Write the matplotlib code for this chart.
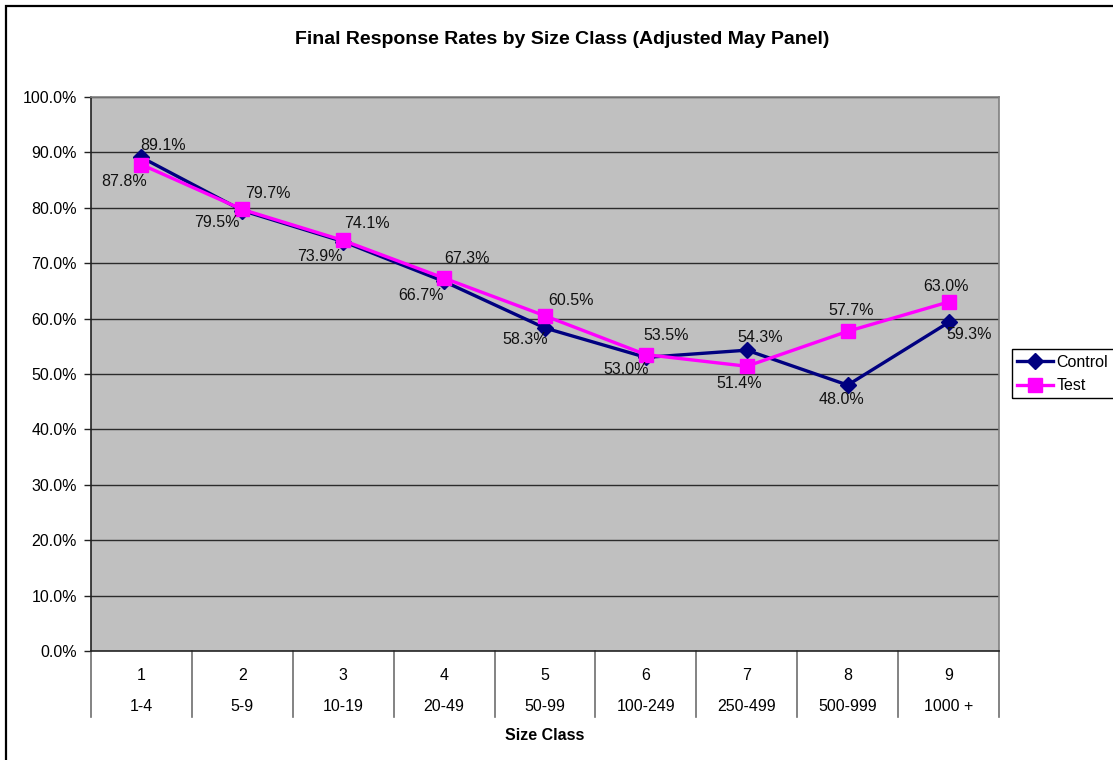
import matplotlib
matplotlib.use("Agg")
import matplotlib.pyplot as plt
from matplotlib.patches import Rectangle
from matplotlib.lines import Line2D

# ---- data ----
size_codes = ["1", "2", "3", "4", "5", "6", "7", "8", "9"]
size_ranges = ["1-4", "5-9", "10-19", "20-49", "50-99", "100-249", "250-499", "500-999", "1000 +"]
control = [89.1, 79.5, 73.9, 66.7, 58.3, 53.0, 54.3, 48.0, 59.3]
test = [87.8, 79.7, 74.1, 67.3, 60.5, 53.5, 51.4, 57.7, 63.0]
y_ticks = [0, 10, 20, 30, 40, 50, 60, 70, 80, 90, 100]

# label offsets (pixels) - styling
control_off = [(22, 12), (-25, -12), (-23, -15), (-23, -14), (-20, -11),
               (-20, -12), (13, 13), (-6, -14), (21, -12)]
test_off = [(-17, -17), (26, 16), (24, 17), (23, 20), (26, 15),
            (20, 19), (-8, -17), (3, 21), (-3, 15)]

FONT = "Liberation Sans"
plt.rcParams["font.family"] = [FONT, "DejaVu Sans"]

W, H = 1113, 760
fig = plt.figure(figsize=(W / 100, H / 100), dpi=100)
fig.patch.set_facecolor("white")

L, R, T, B = 91, 999, 97, 651
ax = fig.add_axes([L / W, 1 - B / H, (R - L) / W, (B - T) / H])
ax.set_facecolor("#C0C0C0")

n = len(control)
xs = [i + 0.5 for i in range(n)]
ax.set_xlim(0, n)
ax.set_ylim(0, 100)

for y in y_ticks[1:]:
    ax.axhline(y, color="#2b2b2b", lw=1.0, zorder=1)

ax.plot(xs, control, color="#000080", lw=2.4, marker="D", markersize=8,
        markerfacecolor="#000080", markeredgecolor="#000080", zorder=3, label="Control")
ax.plot(xs, test, color="#FF00FF", lw=2.4, marker="s", markersize=10,
        markerfacecolor="#FF00FF", markeredgecolor="#FF00FF", zorder=4, label="Test")

fs = 11.5
for x, v, (dx, dy) in zip(xs, control, control_off):
    ax.annotate(f"{v:.1f}%", (x, v), xytext=(dx, dy), textcoords="offset pixels",
                ha="center", va="center", fontsize=fs, color="#111111", zorder=5)
for x, v, (dx, dy) in zip(xs, test, test_off):
    ax.annotate(f"{v:.1f}%", (x, v), xytext=(dx, dy), textcoords="offset pixels",
                ha="center", va="center", fontsize=fs, color="#111111", zorder=5)

# y axis
ax.set_yticks(y_ticks)
ax.set_yticklabels([f"{v:.1f}%" for v in y_ticks], fontsize=fs)
ax.tick_params(axis="y", direction="out", length=5, width=1, color="#222222", pad=5)
ax.set_xticks([])

for s in ["left", "bottom"]:
    ax.spines[s].set_color("#222222")
    ax.spines[s].set_linewidth(1.2)
for s in ["right", "top"]:
    ax.spines[s].set_color("#808080")
    ax.spines[s].set_linewidth(1.2)

# x axis multi-level labels
ph = B - T
trans = ax.get_xaxis_transform()
sep_bottom = -(717 - 651) / ph
for k in range(n + 1):
    ax.plot([k, k], [0, sep_bottom], transform=trans, clip_on=False,
            color="#6e6e6e", lw=1.2)
for x, c, r in zip(xs, size_codes, size_ranges):
    ax.text(x, -(675 - 651) / ph, c, transform=trans, ha="center", va="center", fontsize=fs)
    ax.text(x, -(706.5 - 651) / ph, r, transform=trans, ha="center", va="center", fontsize=fs)
ax.text(n / 2, -(735 - 651) / ph, "Size Class", transform=trans, ha="center", va="center",
        fontsize=fs, fontweight="bold")

fig.text(562 / W, 1 - 40 / H, "Final Response Rates by Size Class (Adjusted May Panel)",
         ha="center", va="center", fontsize=14, fontweight="bold")

# legend (frame drawn separately; it runs past the right edge as in the reference)
handles = [Line2D([0], [0], color="#000080", lw=2.4, marker="D", markersize=8),
           Line2D([0], [0], color="#FF00FF", lw=2.4, marker="s", markersize=10)]
leg = fig.legend(handles, ["Control", "Test"], loc="upper left",
                 bbox_to_anchor=(1011.5 / W, 1 - 349 / H), fontsize=fs,
                 frameon=False, handlelength=2.25, handletextpad=0.2,
                 borderpad=0.35, labelspacing=0.55, borderaxespad=0)
fig.add_artist(Rectangle((1012 / W, 1 - 397.5 / H), 130 / W, 48.5 / H,
                         transform=fig.transFigure, fill=False, edgecolor="black",
                         lw=1.0, clip_on=False))

# outer chart frame
fig.add_artist(Rectangle((6 / W, -0.2), 2.0, 1.2 - 6 / H, transform=fig.transFigure,
                         fill=False, edgecolor="black", lw=1.6, clip_on=False))

fig.savefig("out.png", dpi=100)
